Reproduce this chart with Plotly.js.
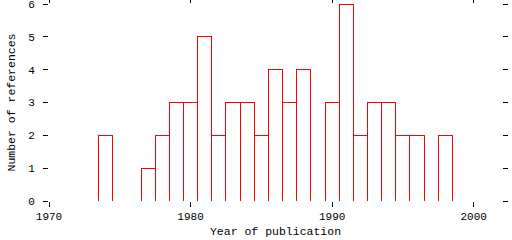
<!DOCTYPE html>
<html>
<head>
<meta charset="utf-8">
<script src="https://cdn.plot.ly/plotly-3.0.1.min.js"></script>
<style>html,body{margin:0;padding:0;background:#fff;}#chart{width:512px;height:240px;}
#chart path{shape-rendering:crispEdges;}</style>
</head>
<body>
<div id="chart"></div>
<script>
const years = [1973,1974,1975,1976,1977,1978,1979,1980,1981,1982,1983,1984,1985,1986,1987,1988,1989,1990,1991,1992,1993,1994,1995,1996,1997,1998,1999];
const counts = [0,2,0,0,1,2,3,3,5,2,3,3,2,4,3,4,0,3,6,2,3,3,2,2,0,2,0];
const xTickVals = [1970,1980,1990,2000];
const yTickVals = [0,1,2,3,4,5,6];
const xTitle = "Year of publication";
const yTitle = "Number of references";

const tickFont = {family: "Liberation Mono, DejaVu Sans Mono, monospace", size: 11, color: "#000"};
const titleFont = {family: "Liberation Mono, DejaVu Sans Mono, monospace", size: 11.5, color: "#000"};

const traces = [
  {
    type: "bar", x: years, y: counts, width: 1,
    marker: {color: "rgba(0,0,0,0)", line: {color: "#ff0000", width: 1}},
    hoverinfo: "skip"
  },
  {
    type: "scatter", mode: "lines",
    x: [years[0] - 0.5, years[years.length - 1] + 0.5], y: [0, 0],
    line: {color: "#ff0000", width: 1}, hoverinfo: "skip"
  }
];

const layout = {
  width: 512, height: 240,
  margin: {l: 49, r: 10, t: 4, b: 39},
  paper_bgcolor: "#fff", plot_bgcolor: "#fff",
  showlegend: false,
  font: tickFont,
  xaxis: {
    range: [1970, 2002], tickvals: xTickVals, ticktext: xTickVals.map(String),
    ticks: "outside", ticklen: 5, tickwidth: 1, tickcolor: "#000",
    showline: false, mirror: "ticks", showgrid: false, zeroline: false,
    tickfont: tickFont, ticklabeloverflow: "allow",
    title: {text: xTitle, font: titleFont, standoff: 4}
  },
  yaxis: {
    range: [0, 6], tickvals: yTickVals, ticktext: yTickVals.map(String),
    ticks: "outside", ticklen: 5, tickwidth: 1, tickcolor: "#000",
    showline: false, mirror: "ticks", showgrid: false, zeroline: false,
    tickfont: tickFont, ticklabelstandoff: 6, ticklabeloverflow: "allow",
    title: {text: yTitle, font: titleFont, standoff: 10}
  }
};

Plotly.newPlot("chart", traces, layout, {staticPlot: true, displayModeBar: false});
</script>
</body>
</html>
